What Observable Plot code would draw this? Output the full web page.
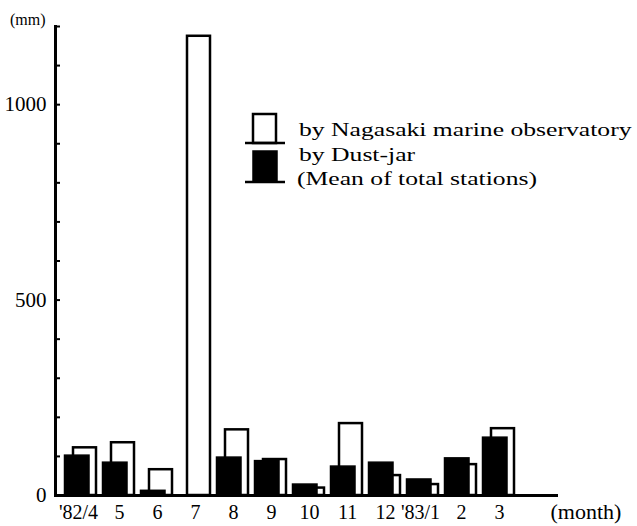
<!DOCTYPE html>
<html><head><meta charset="utf-8">
<script src="https://cdn.jsdelivr.net/npm/d3@7"></script>
<script src="https://cdn.jsdelivr.net/npm/@observablehq/plot@0.6"></script>
<style>
body{margin:0;background:#fff}
svg{display:block}
</style>
</head><body><div id="chart"></div>
<script>
const months = ["'82/4","5","6","7","8","9","10","11","12","'83/1","2","3"];
const nagasaki = [122,135,66,1175,168,92,19,184,51,28,79,171];
const dustJar = [102,84,12,null,97,88,28,74,84,41,95,148];
const yTicks = d3.range(0, 1201, 100);
const yLabels = [0, 500, 1000];
const legendLabels = ["by Nagasaki marine observatory", "by Dust-jar", "(Mean of total stations)"];

const table = months.map((m, i) => ({month: m, nagasaki: nagasaki[i], dust: dustJar[i]}));
const serif = "Liberation Serif, Times New Roman, Tinos, serif";
const yearMonths = months.filter(m => m.includes("/"));
const plainMonths = months.filter(m => !m.includes("/"));

function legend(index, scales, values, dims) {
  const g = d3.create("svg:g");
  const x0 = 253;
  g.append("rect").attr("x", x0).attr("y", 114).attr("width", 23).attr("height", 29)
    .attr("fill", "white").attr("stroke", "black").attr("stroke-width", 2.5);
  g.append("line").attr("x1", 245).attr("x2", 285).attr("y1", 143).attr("y2", 143)
    .attr("stroke", "black").attr("stroke-width", 2.5);
  g.append("rect").attr("x", x0).attr("y", 151).attr("width", 24).attr("height", 31)
    .attr("fill", "black").attr("stroke", "black").attr("stroke-width", 1.5);
  g.append("line").attr("x1", 245).attr("x2", 285).attr("y1", 182).attr("y2", 182)
    .attr("stroke", "black").attr("stroke-width", 2.5);
  const baselines = [136, 161, 185];
  legendLabels.forEach((t, i) => {
    g.append("text").attr("transform", `translate(${i === 2 ? 297 : 299},${baselines[i]}) scale(1.35,1)`)
      .attr("text-anchor", "start")
      .attr("font-family", serif).attr("font-size", 19).attr("fill", "black").text(t);
  });
  return g.node();
}

const chart = Plot.plot({
  width: 637, height: 526,
  marginLeft: 55, marginRight: 79, marginTop: 26, marginBottom: 31,
  style: {background: "white", color: "black", fontFamily: serif},
  x: {type: "band", domain: months, range: [58, 525], padding: 0},
  y: {domain: [0, 1200]},
  marks: [
    Plot.barY(table, {x: "month", y: "nagasaki", fill: "white", stroke: "black", strokeWidth: 2.5, insetLeft: 9, insetRight: 6}),
    Plot.barY(table.filter(d => d.dust != null), {x: "month", y: "dust", fill: "black", stroke: "black", strokeWidth: 1.5, insetLeft: 0.5, insetRight: 13}),
    Plot.ruleY([0], {strokeWidth: 3}),
    Plot.frame({anchor: "left", strokeWidth: 3}),
    Plot.axisY(yTicks, {tickSize: -5, strokeWidth: 2, tickFormat: () => "", label: null}),
    Plot.axisY(yLabels, {tickSize: 0, tickPadding: 9, fontSize: 21, fontFamily: serif, tickFormat: d3.format("d"), label: null}),
    Plot.axisX(plainMonths, {tickSize: 0, tickPadding: 9, fontSize: 20, fontFamily: serif, label: null, dx: -2}),
    Plot.axisX(yearMonths, {tickSize: 0, tickPadding: 9, fontSize: 20, fontFamily: serif, label: null, dx: -5}),
    Plot.text(["(month)"], {frameAnchor: "bottom-right", textAnchor: "start", lineAnchor: "top", dx: -8, dy: 8, fontSize: 22, fontFamily: serif}),
    Plot.text(["(mm)"], {frameAnchor: "top-left", textAnchor: "end", lineAnchor: "middle", dx: -10, dy: -7, fontSize: 16, fontFamily: serif}),
    legend
  ]
});
document.getElementById("chart").appendChild(chart);
</script>
</body></html>
